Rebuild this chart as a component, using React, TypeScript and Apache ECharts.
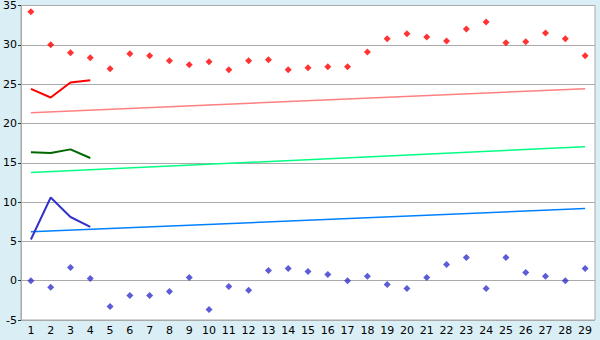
import React, { useEffect, useRef } from "react";
import * as echarts from "echarts";

const categories = Array.from({ length: 29 }, (_, i) => String(i + 1));

const redPoints = [34.2, 30.0, 29.0, 28.35, 26.95, 28.85, 28.6, 27.97, 27.46, 27.85, 26.83, 27.97, 28.1, 26.83, 27.08, 27.2, 27.2, 29.1, 30.77, 31.4, 31.0, 30.5, 32.0, 32.9, 30.25, 30.4, 31.5, 30.77, 28.6];
const bluePoints = [0, -0.85, 1.69, 0.29, -3.27, -1.87, -1.87, -1.36, 0.42, -3.65, -0.73, -1.23, 1.31, 1.56, 1.18, 0.8, 0, 0.55, -0.47, -0.98, 0.42, 2.07, 2.96, -0.98, 2.96, 1.05, 0.55, 0, 1.56];

const redLine = [24.4, 23.3, 25.2, 25.5];
const greenLine = [16.33, 16.24, 16.7, 15.6];
const blueLine = [5.24, 10.58, 8.1, 6.85];

const redTrend = [21.37, 24.42];
const greenTrend = [13.75, 17.05];
const blueTrend = [6.21, 9.18];

const yTicks = { min: -5, max: 35, interval: 5 };

const FONT = "DejaVu Sans";

export default function App() {
  const ref = useRef<HTMLDivElement>(null);
  useEffect(() => {
    if (!ref.current) return;
    const chart = echarts.init(ref.current, null, { renderer: "svg" });
    const first = categories[0];
    const last = categories[categories.length - 1];
    const trend = (vals: number[], color: string) => ({
      type: "line",
      data: [[first, vals[0]], [last, vals[1]]],
      symbol: "none",
      lineStyle: { color, width: 1.5 },
      z: 2,
    });
    chart.setOption({
      animation: false,
      backgroundColor: "#daeef5",
      grid: {
        left: 20,
        right: 5,
        top: 5,
        bottom: 20,
        show: true,
        backgroundColor: "#ffffff",
        borderColor: "#aaaaaa",
        borderWidth: 1,
      },
      xAxis: {
        type: "category",
        data: categories,
        boundaryGap: true,
        axisLine: { lineStyle: { color: "#aaaaaa", width: 1 } },
        axisTick: { alignWithLabel: true, length: 4, lineStyle: { color: "#333333" } },
        axisLabel: { color: "#000", fontFamily: FONT, fontSize: 11, margin: 5, interval: 0 },
        splitLine: { show: false },
      },
      yAxis: {
        type: "value",
        min: yTicks.min,
        max: yTicks.max,
        interval: yTicks.interval,
        axisLine: { show: true, lineStyle: { color: "#aaaaaa", width: 1 } },
        axisTick: { show: true, length: 3, lineStyle: { color: "#333333" } },
        axisLabel: { color: "#000", fontFamily: FONT, fontSize: 11, margin: 4 },
        splitLine: { lineStyle: { color: "#aaaaaa", width: 1 } },
      },
      series: [
        trend(redTrend, "#ff8080"),
        trend(greenTrend, "#00ff80"),
        trend(blueTrend, "#0080ff"),
        {
          type: "line",
          data: redLine,
          symbol: "none",
          lineStyle: { color: "#ff0000", width: 2 },
          z: 3,
        },
        {
          type: "line",
          data: greenLine,
          symbol: "none",
          lineStyle: { color: "#006600", width: 2 },
          z: 3,
        },
        {
          type: "line",
          data: blueLine,
          symbol: "none",
          lineStyle: { color: "#3333cc", width: 2 },
          z: 3,
        },
        {
          type: "scatter",
          data: redPoints,
          symbol: "diamond",
          symbolSize: 7,
          itemStyle: { color: "#ff0000" },
          z: 4,
        },
        {
          type: "scatter",
          data: bluePoints,
          symbol: "diamond",
          symbolSize: 7,
          itemStyle: { color: "#3333cc" },
          z: 4,
        },
      ],
    });
    return () => chart.dispose();
  }, []);
  return (
    <div
      ref={ref}
      style={{ position: "fixed", left: 0, top: 0, width: 600, height: 340 }}
    />
  );
}
